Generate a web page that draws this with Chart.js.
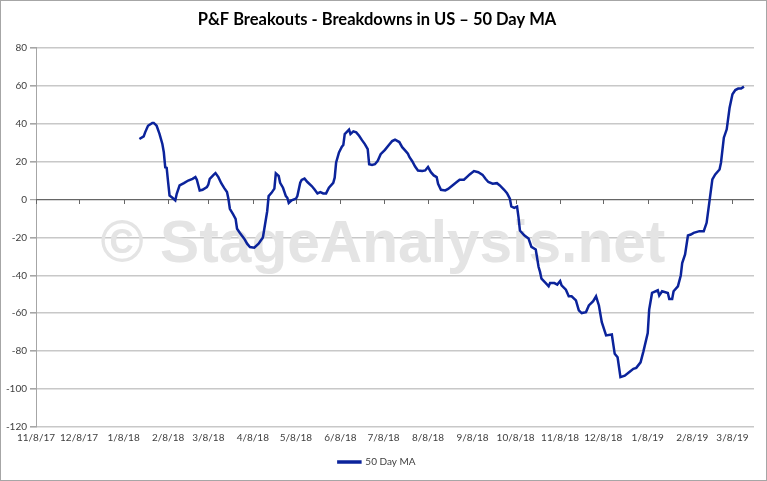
<!DOCTYPE html>
<html>
<head>
<meta charset="utf-8">
<script src="https://cdn.jsdelivr.net/npm/chart.js@4.4.0/dist/chart.umd.min.js"></script>
<style>
  html, body { margin: 0; padding: 0; background: #fff; }
  #wrap { width: 767px; height: 481px; position: relative; }
</style>
</head>
<body>
<div id="wrap"><canvas id="chart"></canvas></div>
<script>
// x positions are days counted from 11/8/17
const tickDays = [0, 30, 61, 92, 120, 151, 181, 212, 242, 273, 304, 334, 365, 395, 426, 457, 485];
const tickLabels = ['11/8/17', '12/8/17', '1/8/18', '2/8/18', '3/8/18', '4/8/18', '5/8/18', '6/8/18',
    '7/8/18', '8/8/18', '9/8/18', '10/8/18', '11/8/18', '12/8/18', '1/8/19', '2/8/19', '3/8/19'];

const days = [72, 75, 76, 78, 81, 82, 84, 86, 88, 89, 90, 91, 92, 93, 95, 97, 98, 100, 103, 106,
    109, 111, 112, 114, 116, 119, 120, 121, 124, 125, 127, 129, 131, 133, 134, 135, 137, 139, 140, 142,
    145, 147, 149, 152, 155, 158, 161, 162, 164, 166, 167, 169, 170, 172, 174, 175, 176, 178, 181, 182,
    184, 185, 187, 189, 192, 194, 196, 198, 200, 202, 204, 207, 208, 209, 211, 213, 214, 215, 218, 219,
    221, 223, 225, 227, 229, 231, 232, 234, 236, 238, 240, 243, 246, 248, 250, 253, 255, 257, 259, 260,
    262, 264, 266, 269, 271, 273, 275, 277, 279, 280, 282, 285, 287, 290, 293, 295, 298, 300, 302, 305,
    308, 311, 313, 315, 318, 321, 323, 326, 328, 330, 331, 333, 335, 336, 337, 340, 343, 345, 348, 350,
    351, 352, 355, 357, 358, 361, 363, 365, 366, 369, 371, 373, 376, 378, 380, 383, 385, 388, 390, 392,
    394, 397, 401, 403, 405, 407, 410, 413, 416, 418, 421, 423, 426, 427, 429, 433, 434, 436, 440, 441,
    443, 444, 447, 449, 450, 452, 454, 456, 458, 462, 465, 467, 469, 471, 473, 476, 477, 479, 481, 483,
    485, 487, 489, 491, 493];
const values = [31.9, 33.3, 35.4, 38.9, 40.4, 40.4, 38.9, 34.6, 29.3, 24.9, 17, 16.7, 9.1, 2.1, 0.9, -0.5, 3, 7.4, 8.6, 10,
    10.9, 11.8, 10.4, 4.7, 5.1, 6.5, 7.9, 10.9, 13.2, 13.9, 11.8, 8.6, 6.1, 3.9, 0.4, -4.9, -7.5, -10.2, -15.4, -17.7,
    -20.7, -23.3, -25.1, -25.4, -23.3, -20, -6.2, 1.8, 3.5, 5.7, 13.8, 12.4, 8.8, 6.2, 1.8, 0.9, -1.8, -0.4, 0.4, 1.8,
    8.8, 10.3, 11, 9.2, 7.1, 5.3, 3.2, 3.9, 3.2, 3.2, 6.2, 8.8, 11.5, 19.5, 24.8, 27.8, 28.7, 34.5, 36.8, 34.5,
    35.9, 35.4, 33.6, 31.3, 29.2, 26.5, 18.6, 18.2, 18.6, 20.4, 23.9, 26.2, 29, 30.8, 31.5, 30.3, 27.6, 25.9, 24.1, 22.4,
    20.2, 17.4, 15.3, 15, 15.3, 17.1, 14.4, 12.7, 11.8, 8.3, 5.1, 4.8, 5.6, 7.4, 9.2, 10.4, 10.4, 11.8, 13.2, 15,
    14.4, 13, 10.9, 9.2, 8.3, 8.6, 7.4, 5.1, 3.3, 0.4, -3.7, -4.4, -3.7, -9.3, -16.4, -18.9, -20.6, -25, -26.4, -35.6,
    -38.2, -41.8, -44.1, -45.8, -44.1, -44.1, -44.9, -43, -45.3, -47.6, -51.1, -51.1, -53.2, -58.5, -59.9, -59.4, -55.9, -53.6, -51.1, -55.9,
    -64.7, -71.7, -71.2, -81.4, -83.2, -93.7, -92.9, -91.1, -89.3, -88.8, -85.9, -80.1, -70.4, -58.1, -49.3, -47.9, -50.7, -48.4, -49.3, -52.5,
    -52.5, -48.4, -45.8, -40.1, -33.5, -29, -19, -18.5, -17.6, -16.7, -16.7, -12.3, -0.9, 10.6, 13.2, 15.8, 19.4, 32.6, 37, 48.4,
    55.5, 57.7, 58.5, 58.5, 59.5];

const points = days.map((d, i) => ({ x: d, y: values[i] }));

// big grey watermark behind the line, and small tick marks on the zero line
const extras = {
    id: 'extras',
    beforeDatasetsDraw(chart) {
        const ctx = chart.ctx;
        const x = chart.scales.x, y = chart.scales.y;
        ctx.save();
        ctx.font = 'bold 64px "Liberation Sans"';
        const text = '\u00a9 StageAnalysis.net';
        const w = ctx.measureText(text).width;
        const size = 64 * 565 / w;
        ctx.font = 'bold ' + size + 'px "Liberation Sans"';
        ctx.fillStyle = '#e4e4e4';
        ctx.textAlign = 'center';
        ctx.textBaseline = 'alphabetic';
        ctx.fillText(text, 383, 262);

        const y0 = Math.round(y.getPixelForValue(0));
        ctx.strokeStyle = '#666';
        ctx.lineWidth = 1;
        tickDays.forEach(d => {
            const px = Math.round(x.getPixelForValue(d)) + 0.5;
            ctx.beginPath();
            ctx.moveTo(px, y0);
            ctx.lineTo(px, y0 + 5);
            ctx.stroke();
        });
        ctx.restore();
    },
    afterDraw(chart) {
        const ctx = chart.ctx;
        ctx.save();
        ctx.strokeStyle = '#a6a6a6';
        ctx.lineWidth = 1;
        ctx.strokeRect(0.5, 0.5, chart.width - 1, chart.height - 1);
        ctx.restore();
    }
};

new Chart(document.getElementById('chart'), {
    type: 'line',
    data: {
        datasets: [{
            label: '50 Day MA',
            data: points,
            borderColor: '#0b239b',
            backgroundColor: '#0b239b',
            borderWidth: 2.5,
            pointRadius: 0,
            tension: 0,
            fill: false
        }]
    },
    options: {
        responsive: true,
        maintainAspectRatio: false,
        animation: false,
        layout: { padding: { left: 0, right: 13, top: 0, bottom: 4 } },
        scales: {
            x: {
                type: 'linear',
                min: 0,
                max: 500,
                afterBuildTicks: scale => { scale.ticks = tickDays.map(v => ({ value: v })); },
                afterFit: scale => { scale.height = 22; },
                grid: { display: false, drawTicks: false, tickLength: 0 },
                border: { display: false },
                ticks: {
                    autoSkip: false,
                    maxRotation: 0,
                    padding: 5,
                    color: '#404040',
                    font: { family: 'Lato', size: 10 },
                    callback: v => tickLabels[tickDays.indexOf(v)]
                }
            },
            y: {
                min: -120,
                max: 80,
                afterFit: scale => { scale.width = 36; },
                ticks: {
                    stepSize: 20,
                    padding: 3,
                    color: '#404040',
                    font: { family: 'Lato', size: 10 }
                },
                grid: {
                    color: c => c.tick.value === 0 ? '#666666' : '#c8c8c8',
                    lineWidth: c => c.tick.value === 0 ? 1.2 : 1.6,
                    tickLength: 6,
                    tickColor: '#a6a6a6'
                },
                border: { display: true, color: '#a6a6a6', width: 1 }
            }
        },
        plugins: {
            title: {
                display: true,
                text: 'P&F Breakouts - Breakdowns in US \u2013 50 Day MA',
                color: '#000',
                font: { family: 'Lato', size: 16.5, weight: 'bold' },
                padding: { top: 10, bottom: 18 }
            },
            legend: {
                position: 'bottom',
                labels: {
                    boxWidth: 22,
                    boxHeight: 1,
                    color: '#404040',
                    font: { family: 'Lato', size: 10 },
                    padding: 8
                }
            },
            tooltip: { enabled: false }
        }
    },
    plugins: [extras]
});
</script>
</body>
</html>
